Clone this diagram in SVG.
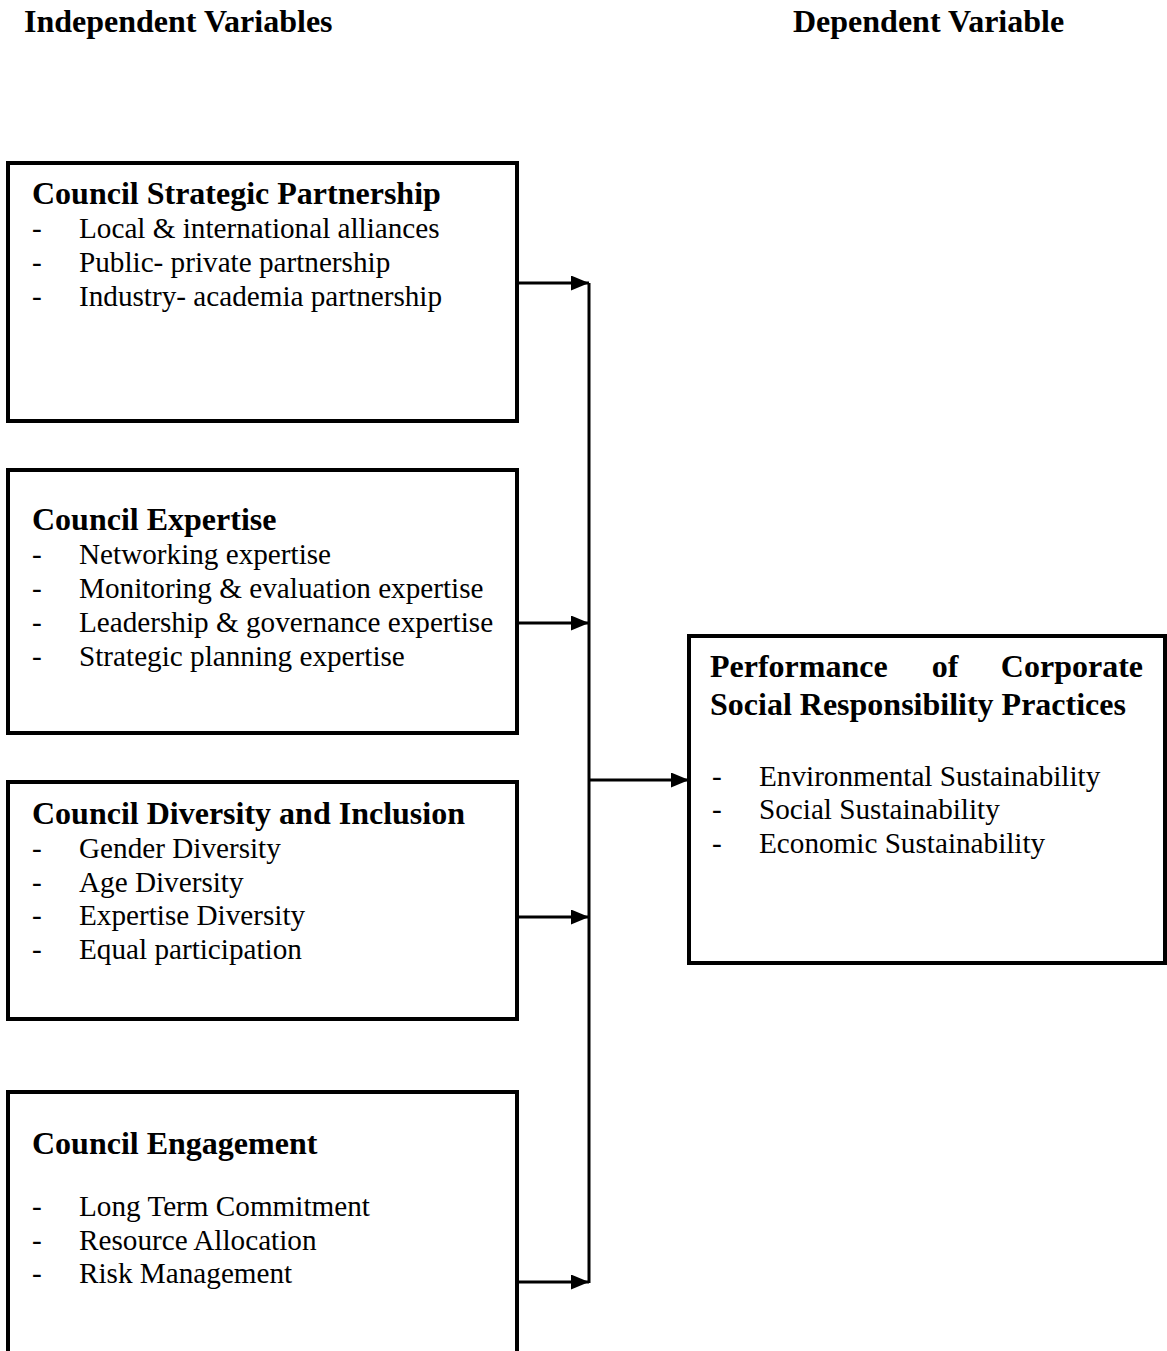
<svg xmlns="http://www.w3.org/2000/svg" width="1167" height="1351" viewBox="0 0 1167 1351">
<style>
.t{font-family:"Liberation Serif","Times New Roman",serif;font-size:29.2px;fill:#000}
.b{font-weight:bold;font-size:32px}
.box{fill:#fff;stroke:#000;stroke-width:4}
.ln{stroke:#000;stroke-width:3;fill:none}
</style>
<defs>
<marker id="ah" markerWidth="6" markerHeight="5" refX="6" refY="2.5" orient="auto" markerUnits="strokeWidth">
<path d="M0,0 L6,2.5 L0,5 Z" fill="#000"/>
</marker>
</defs>
<rect width="1167" height="1351" fill="#fff"/>
<text class="t b" x="24" y="32">Independent Variables</text>
<text class="t b" x="793" y="32">Dependent Variable</text>
<g id="n1">
<rect class="box" x="8" y="163" width="509" height="258"/>
<text class="t b" x="32" y="204">Council Strategic Partnership</text>
<text class="t" x="32" y="238">-</text><text class="t" x="79" y="238">Local &amp; international alliances</text>
<text class="t" x="32" y="272">-</text><text class="t" x="79" y="272">Public- private partnership</text>
<text class="t" x="32" y="306">-</text><text class="t" x="79" y="306">Industry- academia partnership</text>
</g>
<g id="n2">
<rect class="box" x="8" y="470" width="509" height="263"/>
<text class="t b" x="32" y="530">Council Expertise</text>
<text class="t" x="32" y="564">-</text><text class="t" x="79" y="564">Networking expertise</text>
<text class="t" x="32" y="598">-</text><text class="t" x="79" y="598">Monitoring &amp; evaluation expertise</text>
<text class="t" x="32" y="632">-</text><text class="t" x="79" y="632">Leadership &amp; governance expertise</text>
<text class="t" x="32" y="666">-</text><text class="t" x="79" y="666">Strategic planning expertise</text>
</g>
<g id="n3">
<rect class="box" x="8" y="782" width="509" height="237"/>
<text class="t b" x="32" y="824">Council Diversity and Inclusion</text>
<text class="t" x="32" y="858">-</text><text class="t" x="79" y="858">Gender Diversity</text>
<text class="t" x="32" y="892">-</text><text class="t" x="79" y="892">Age Diversity</text>
<text class="t" x="32" y="925">-</text><text class="t" x="79" y="925">Expertise Diversity</text>
<text class="t" x="32" y="959">-</text><text class="t" x="79" y="959">Equal participation</text>
</g>
<g id="n4">
<rect class="box" x="8" y="1092" width="509" height="300"/>
<text class="t b" x="32" y="1154">Council Engagement</text>
<text class="t" x="32" y="1216">-</text><text class="t" x="79" y="1216">Long Term Commitment</text>
<text class="t" x="32" y="1250">-</text><text class="t" x="79" y="1250">Resource Allocation</text>
<text class="t" x="32" y="1283">-</text><text class="t" x="79" y="1283">Risk Management</text>
</g>
<g id="n5">
<rect class="box" x="689" y="636" width="476" height="327"/>
<text class="t b" x="710" y="677">Performance</text>
<text class="t b" x="945" y="677" text-anchor="middle">of</text>
<text class="t b" x="1143" y="677" text-anchor="end">Corporate</text>
<text class="t b" x="710" y="715">Social Responsibility Practices</text>
<text class="t" x="712" y="786">-</text><text class="t" x="759" y="786">Environmental Sustainability</text>
<text class="t" x="712" y="819">-</text><text class="t" x="759" y="819">Social Sustainability</text>
<text class="t" x="712" y="853">-</text><text class="t" x="759" y="853">Economic Sustainability</text>
</g>
<g id="connectors">
<line class="ln" x1="589" y1="283" x2="589" y2="1283"/>
<line class="ln" x1="517" y1="283" x2="589" y2="283" marker-end="url(#ah)"/>
<line class="ln" x1="517" y1="623" x2="589" y2="623" marker-end="url(#ah)"/>
<line class="ln" x1="517" y1="917" x2="589" y2="917" marker-end="url(#ah)"/>
<line class="ln" x1="517" y1="1282" x2="589" y2="1282" marker-end="url(#ah)"/>
<line class="ln" x1="589" y1="780" x2="689" y2="780" marker-end="url(#ah)"/>
</g>
</svg>
